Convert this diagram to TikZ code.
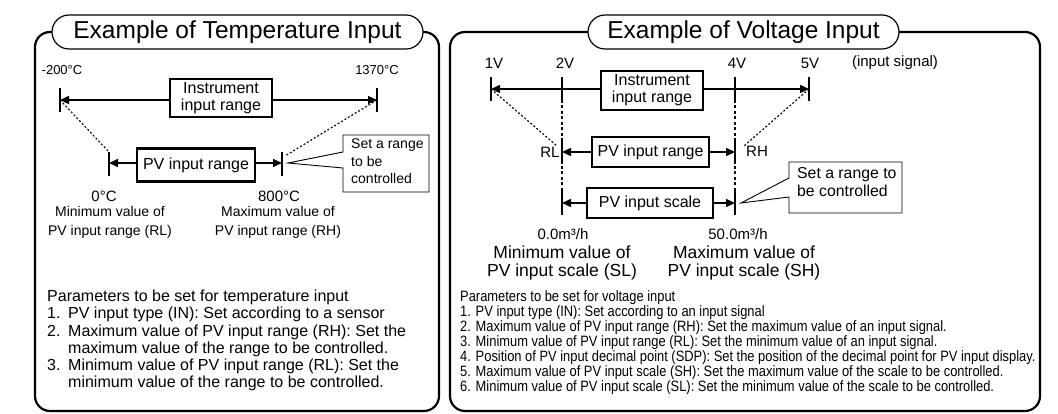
\documentclass[tikz,border=0pt]{standalone}
\usepackage{fontspec}
\setmainfont{Liberation Sans}
\newfontfamily\narrowfont[FakeStretch=0.86]{Liberation Sans}
\usetikzlibrary{arrows.meta}
\begin{document}
\begin{tikzpicture}[x=1pt,y=-1pt,
  panel/.style={line width=2.2pt, rounded corners=15pt},
  pill/.style={draw, fill=white, line width=1.2pt, rounded corners=17pt, minimum height=34pt, inner sep=0pt, font=\fontsize{24.5}{26}\selectfont},
  rbox/.style={draw, fill=white, line width=2.2pt, inner sep=0pt, align=center, font=\fontsize{16}{17}\selectfont},
  ln/.style={line width=1.5pt},
  arr/.style={ln, -{Triangle[length=9pt,width=8pt]}},
  tick/.style={line width=1.9pt},
  dots/.style={line width=1.1pt, dash pattern=on 2pt off 2pt},
  vdash/.style={line width=1.6pt, dash pattern=on 3pt off 2.5pt},
  callout/.style={line width=0.9pt, fill=white},
  lbl/.style={inner sep=0pt, font=\fontsize{13}{14}\selectfont},
  lblb/.style={inner sep=0pt, font=\fontsize{15}{16}\selectfont},
  desc/.style={inner sep=0pt, align=center, font=\fontsize{14}{19}\selectfont},
  descb/.style={inner sep=0pt, align=center, font=\fontsize{17.5}{18.5}\selectfont},
  ctext/.style={inner sep=0pt, align=left},
  params/.style={inner sep=0pt, align=left, anchor=north west},
]
\useasboundingbox (0,0) rectangle (1058,414);

% ================= Left panel =================
\draw[panel] (35,32) rectangle (439,411);
\node[pill, minimum width=371pt] (tT) at (237.5,32) {Example of Temperature Input};

\node[lbl] (m200) at (62,70) {-200°C};
\node[lbl] (p1370) at (377,70) {1370°C};

\coordinate (aL) at (60,100);
\coordinate (aR) at (377,100);
\coordinate (bL) at (109,163);
\coordinate (bR) at (282,163);
\coordinate (bLt) at (109,152);
\coordinate (bRt) at (285,156);

\node[rbox, minimum width=102pt, minimum height=38pt] (ibL) at (221,98) {Instrument\\input range};
\draw[arr] (ibL.west |- aL) -- (aL);
\draw[arr] (ibL.east |- aR) -- (aR);
\draw[tick] (aL) ++(0,-12) -- ++(0,24);
\draw[tick] (aR) ++(0,-12) -- ++(0,24);

\node[rbox, minimum width=118pt, minimum height=33pt] (pbL) at (196,165) {PV input range};
\draw[arr] (pbL.west |- bL) -- (bL);
\draw[arr] (pbL.east |- bR) -- (bR);
\draw[tick] (bL) ++(0,-11) -- ++(0,24);
\draw[tick] (bR) ++(0,-11) -- ++(0,24);

\draw[dots] (aL) -- (bLt);
\draw[dots] (aR) -- (bRt);

\coordinate (cT) at (288,163);
\draw[callout] (343,135) -- (429,135) -- (429,192) -- (343,192) -- (343,168) -- (cT) -- (343,152) -- cycle;
\node[ctext, anchor=north west, font=\fontsize{14}{17.5}\selectfont] (cTx) at (351,139) {Set a range\\to be\\controlled};

\node[lblb] (z0) at (104,196) {0°C};
\node[lblb] (z800) at (279,196) {800°C};
\node[desc] (dRL) at (110,222.5) {Minimum value of\\PV input range (RL)};
\node[desc] (dRH) at (278,222.5) {Maximum value of\\PV input range (RH)};

\node[params, font=\fontsize{16}{17.2}\selectfont] (parL) at (47,290) {Parameters to be set for temperature input\\
\makebox[21pt][l]{1.}PV input type (IN): Set according to a sensor\\
\makebox[21pt][l]{2.}Maximum value of PV input range (RH): Set the\\
\hspace*{21pt}maximum value of the range to be controlled.\\
\makebox[21pt][l]{3.}Minimum value of PV input range (RL): Set the\\
\hspace*{21pt}minimum value of the range to be controlled.};

% ================= Right panel =================
\draw[panel] (450,32) rectangle (1040,411);
\node[pill, minimum width=311pt] (tV) at (743.5,32) {Example of Voltage Input};

\node[lblb] (l1) at (494,63) {1V};
\node[lblb] (l2) at (565,63) {2V};
\node[lblb] (l4) at (737,63) {4V};
\node[lblb] (l5) at (810,63) {5V};
\node[lblb] (lis) at (895,63) {(input signal)};

\coordinate (v1) at (491,89);
\coordinate (v5) at (809,89);
\coordinate (v2) at (562,89);
\coordinate (v4) at (735,89);
\coordinate (r2) at (562,152);
\coordinate (r4) at (735,152);
\coordinate (s2) at (562,203);
\coordinate (s4) at (735,203);
\coordinate (rLt) at (557,146);
\coordinate (rHt) at (744,146);

\draw[vdash] (v2) -- (s2);
\draw[vdash] (v4) -- (s4);

\node[rbox, minimum width=102pt, minimum height=39pt] (ibR) at (652,90.5) {Instrument\\input range};
\draw[arr] (ibR.west |- v1) -- (v1);
\draw[arr] (ibR.east |- v5) -- (v5);
\draw[tick] (v1) ++(0,-12) -- ++(0,24);
\draw[tick] (v5) ++(0,-12) -- ++(0,24);
\draw[tick] (v2) ++(0,-12) -- ++(0,24);
\draw[tick] (v4) ++(0,-12) -- ++(0,24);

\node[rbox, minimum width=117pt, minimum height=30pt] (pbR) at (650.5,152) {PV input range};
\draw[arr] (pbR.west) -- (r2);
\draw[arr] (pbR.east) -- (r4);
\draw[tick] (r2) ++(0,-12) -- ++(0,24);
\draw[tick] (r4) ++(0,-12) -- ++(0,24);

\node[rbox, minimum width=126pt, minimum height=30pt] (psR) at (650,203) {PV input scale};
\draw[arr] (psR.west) -- (s2);
\draw[arr] (psR.east) -- (s4);
\draw[tick] (s2) ++(0,-12) -- ++(0,24);
\draw[tick] (s4) ++(0,-12) -- ++(0,24);

\draw[dots] (v1) -- (rLt);
\draw[dots] (v5) -- (rHt);
\node[lblb] (lRL) at (550,152) {RL};
\node[lblb] (lRH) at (757,151) {RH};

\coordinate (cT2) at (741,203);
\draw[callout] (789,162) -- (902,162) -- (902,213) -- (789,213) -- (789,197) -- (cT2) -- (789,178) -- cycle;
\node[ctext, anchor=north west, font=\fontsize{15.8}{18}\selectfont] (cTx2) at (797,167) {Set a range to\\be controlled};

\node[lblb] (q0) at (563,234) {0.0m³/h};
\node[lblb] (q50) at (738,234) {50.0m³/h};
\node[descb] (dSL) at (562,263) {Minimum value of\\PV input scale (SL)};
\node[descb] (dSH) at (744,263) {Maximum value of\\PV input scale (SH)};

\node[params, font=\narrowfont\fontsize{15}{15.1}\selectfont] (parR) at (460,290) {Parameters to be set for voltage input\\
1. PV input type (IN): Set according to an input signal\\
2. Maximum value of PV input range (RH): Set the maximum value of an input signal.\\
3. Minimum value of PV input range (RL): Set the minimum value of an input signal.\\
4. Position of PV input decimal point (SDP): Set the position of the decimal point for PV input display.\\
5. Maximum value of PV input scale (SH): Set the maximum value of the scale to be controlled.\\
6. Minimum value of PV input scale (SL): Set the minimum value of the scale to be controlled.};
\end{tikzpicture}
\end{document}
